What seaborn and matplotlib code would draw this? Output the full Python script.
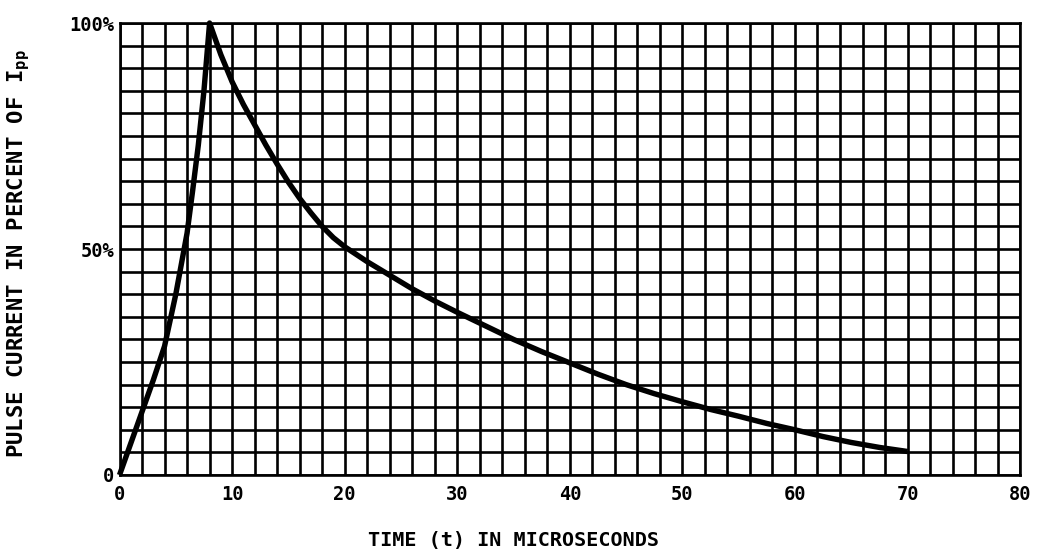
import numpy as np
import matplotlib
matplotlib.use("Agg")
import matplotlib.pyplot as plt
from matplotlib.ticker import MultipleLocator, FixedLocator
import seaborn as sns

# pulse shape (time in microseconds, percent of Ipp)
time_us = [0, 1, 2, 3, 4, 5, 6, 6.5, 7, 7.5, 8, 9, 10, 11, 12, 13, 14, 15,
           16, 17, 18, 19, 20, 22, 24, 26, 28, 30, 32.5, 35, 37.5, 40, 42.5,
           45, 47.5, 50, 52.5, 55, 57.5, 60, 62.5, 65, 67.5, 70]
pulse_pct = [0, 7, 14, 21, 28.5, 40, 53.5, 63, 73, 85, 100, 93, 87, 82, 77.5,
             73, 68.8, 64.8, 61.2, 58, 55, 52.5, 50.5, 47.2, 44.2, 41.2, 38.5,
             36, 33, 30, 27.3, 24.8, 22.3, 20, 18, 16.2, 14.5, 13, 11.4, 10,
             8.5, 7.2, 6.1, 5.2]

x_ticks = [0, 10, 20, 30, 40, 50, 60, 70, 80]
y_ticks = [0, 50, 100]
y_tick_labels = ["0", "50%", "100%"]

sns.set_style("white")
plt.rcParams["font.family"] = ["DejaVu Sans Mono", "DejaVu Sans"]
plt.rcParams["font.weight"] = "bold"
plt.rcParams["mathtext.fontset"] = "custom"
plt.rcParams["mathtext.rm"] = "DejaVu Sans Mono:bold"
for key in ["text.color", "axes.labelcolor", "xtick.color", "ytick.color"]:
    plt.rcParams[key] = "black"

fig = plt.figure(figsize=(10.42, 5.52), dpi=100)
ax = fig.add_axes([0.1147, 0.1395, 0.979 - 0.1147, 0.9583 - 0.1395])

sns.lineplot(x=time_us, y=pulse_pct, ax=ax, color="black", linewidth=3.9,
             clip_on=False, solid_joinstyle="round", solid_capstyle="butt")

ax.set_xlim(0, 80)
ax.set_ylim(0, 100)

# grid every 2 us / 5 %
ax.xaxis.set_minor_locator(MultipleLocator(2))
ax.yaxis.set_minor_locator(MultipleLocator(5))
ax.xaxis.set_major_locator(FixedLocator(x_ticks))
ax.yaxis.set_major_locator(FixedLocator(y_ticks))
ax.grid(which="both", color="black", linewidth=1.9)
ax.set_axisbelow(True)
for sp in ax.spines.values():
    sp.set_visible(True)
    sp.set_color("black")
    sp.set_linewidth(1.9)

ax.set_xticklabels([str(v) for v in x_ticks], fontsize=13.5, fontweight="bold")
ax.set_yticklabels(y_tick_labels, fontsize=13.5, fontweight="bold")
ax.tick_params(which="both", length=0)
ax.tick_params(axis="x", pad=7)
ax.tick_params(axis="y", pad=4)

ax.set_xlabel("TIME (t) IN MICROSECONDS", fontsize=14.5, fontweight="bold")
ax.xaxis.set_label_coords(0.437, -0.125)
ax.set_ylabel(r"PULSE CURRENT IN PERCENT OF I$_{\mathrm{pp}}$", fontsize=16,
              fontweight="bold")
ax.yaxis.set_label_coords(-0.097, 0.49)

fig.savefig("out.png", dpi=100, facecolor="white")
